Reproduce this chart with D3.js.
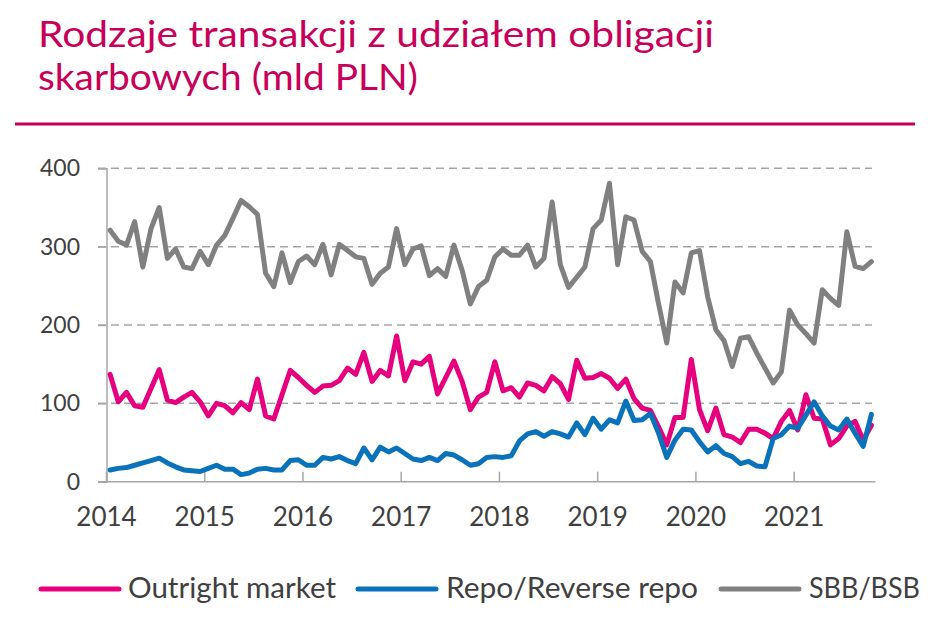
<!DOCTYPE html>
<html>
<head>
<meta charset="utf-8">
<script src="https://cdn.jsdelivr.net/npm/d3@7"></script>
<style>
  html, body { margin: 0; padding: 0; background: #ffffff; }
  svg { display: block; }
</style>
</head>
<body>
<div id="chart"></div>
<script>
// ---- data (monthly, Jan 2014 – Oct 2021) ----
const startYear = 2014;
const yearLabels = ["2014", "2015", "2016", "2017", "2018", "2019", "2020", "2021"];
const yTicks = [0, 100, 200, 300, 400];
const seriesNames = ["Outright market", "Repo/Reverse repo", "SBB/BSB"];

const outright = [
  137, 102, 114, 97, 95, 119, 143, 104, 101, 108, 114, 102,
  84, 100, 97, 88, 101, 92, 131, 84, 80, 111, 142, 133,
  123, 114, 122, 123, 129, 145, 137, 165, 128, 142, 135, 186,
  129, 153, 150, 160, 112, 133, 154, 128, 92, 108, 114, 153,
  116, 120, 108, 126, 123, 116, 134, 125, 105, 155, 132, 133,
  138, 132, 119, 131, 106, 94, 91, 70, 47, 82, 82, 156,
  92, 65, 94, 60, 57, 50, 67, 67, 62, 55, 77, 91,
  66, 111, 81, 80, 47, 55, 71, 77, 53, 72
];
const repo = [
  15, 17, 18, 21, 24, 27, 30, 24, 19, 15, 14, 13,
  17, 21, 16, 16, 9, 11, 16, 17, 15, 15, 27, 28,
  21, 21, 31, 29, 32, 27, 23, 43, 28, 44, 38, 43,
  36, 29, 27, 31, 27, 36, 34, 28, 21, 23, 31, 32,
  31, 33, 52, 61, 64, 58, 64, 61, 57, 75, 60, 81,
  67, 79, 75, 103, 78, 79, 87, 62, 31, 53, 67, 66,
  51, 38, 46, 36, 32, 23, 26, 20, 19, 55, 60, 71,
  68, 85, 102, 84, 71, 66, 80, 62, 45, 86
];
const sbb = [
  321, 307, 302, 332, 274, 323, 350, 285, 297, 274, 272, 294,
  277, 302, 314, 336, 359, 351, 341, 266, 249, 292, 254, 281,
  288, 277, 303, 264, 303, 295, 287, 285, 252, 266, 274, 323,
  277, 297, 301, 263, 272, 262, 302, 270, 227, 249, 257, 287,
  297, 289, 289, 302, 274, 285, 357, 277, 248, 261, 274, 323,
  334, 381, 277, 338, 334, 294, 281, 227, 177, 255, 241, 292,
  295, 236, 194, 180, 147, 183, 185, 164, 145, 126, 140, 219,
  200, 189, 177, 245, 234, 225, 319, 275, 272, 281
];

const colors = ["#E6007E", "#0A72BA", "#808080"];
const seriesData = [outright, repo, sbb];

// ---- layout ----
const W = 933, H = 618;
const svg = d3.select("#chart").append("svg")
  .attr("width", W).attr("height", H)
  .style("font-family", "Lato, 'Open Sans', sans-serif");

const titleColor = "#C8005A";
svg.append("text").attr("x", 38).attr("y", 47)
  .attr("fill", titleColor).attr("font-size", 37)
  .attr("font-family", "Lato, sans-serif").attr("font-weight", 400)
  .attr("textLength", 676).attr("lengthAdjust", "spacingAndGlyphs")
  .text("Rodzaje transakcji z udziałem obligacji");
svg.append("text").attr("x", 38).attr("y", 90)
  .attr("fill", titleColor).attr("font-size", 37)
  .attr("font-family", "Lato, sans-serif").attr("font-weight", 400)
  .attr("textLength", 380).attr("lengthAdjust", "spacingAndGlyphs")
  .text("skarbowych (mld PLN)");
svg.append("line").attr("x1", 15).attr("x2", 915).attr("y1", 124).attr("y2", 124)
  .attr("stroke", titleColor).attr("stroke-width", 3);

const nMonths = outright.length;
const x0 = 106, x1 = 875.5;
const x = d3.scaleBand().domain(d3.range(nMonths)).range([x0, x1]);
const xc = i => x(i) + x.bandwidth() / 2;
const y = d3.scaleLinear().domain([0, 400]).range([481.7, 168.3]);

const axisColor = "#A6A6A6";
const textColor = "#404040";

// gridlines
svg.append("g").selectAll("line").data(yTicks.filter(d => d > 0)).join("line")
  .attr("x1", 98).attr("x2", 872)
  .attr("y1", d => y(d)).attr("y2", d => y(d))
  .attr("stroke", axisColor).attr("stroke-width", 1.5)
  .attr("stroke-dasharray", "8,5");

// y axis
const yAxis = d3.axisLeft(y).tickValues(yTicks).tickSize(8.5).tickPadding(18);
const gy = svg.append("g").attr("transform", `translate(${x0 + 0.5},0)`).call(yAxis);
gy.select(".domain").attr("stroke", axisColor).attr("stroke-width", 1.5);
gy.selectAll(".tick line").attr("stroke", axisColor).attr("stroke-width", 1.5);
gy.selectAll(".tick text").attr("fill", textColor).attr("font-size", 23)
  .attr("font-family", "Lato, sans-serif");

// x axis (year boundaries)
const yearIdx = yearLabels.map((d, k) => k * 12);
const xAxisScale = d3.scaleLinear().domain([0, nMonths]).range([x0, x1]);
const xAxis = d3.axisBottom(xAxisScale).tickValues(yearIdx)
  .tickFormat((d, k) => yearLabels[k]).tickSize(-10).tickPadding(26);
const gx = svg.append("g").attr("transform", `translate(0,${y(0)})`).call(xAxis);
gx.select(".domain").remove();
gx.append("line").attr("x1", 98).attr("x2", x1).attr("y1", 0).attr("y2", 0)
  .attr("stroke", axisColor).attr("stroke-width", 1.5);
gx.selectAll(".tick line").attr("stroke", axisColor).attr("stroke-width", 1.5);
gx.selectAll(".tick text").attr("fill", textColor).attr("font-size", 26)
  .attr("font-family", "Lato, sans-serif");

// lines: draw SBB first, then outright, then repo on top
const line = d3.line().x((d, i) => xc(i)).y(d => y(d)).curve(d3.curveLinear);
[2, 0, 1].forEach(s => {
  svg.append("path").datum(seriesData[s])
    .attr("d", line).attr("fill", "none")
    .attr("stroke", colors[s]).attr("stroke-width", 5)
    .attr("stroke-linejoin", "round").attr("stroke-linecap", "round");
});

// legend
const legendItems = [
  { name: seriesNames[0], color: colors[0], lx: 41, tx: 128, tw: 208 },
  { name: seriesNames[1], color: colors[1], lx: 358, tx: 446, tw: 252 },
  { name: seriesNames[2], color: colors[2], lx: 721, tx: 809, tw: 111 }
];
const lg = svg.append("g");
legendItems.forEach(it => {
  lg.append("line").attr("x1", it.lx).attr("x2", it.lx + 78)
    .attr("y1", 589).attr("y2", 589)
    .attr("stroke", it.color).attr("stroke-width", 5).attr("stroke-linecap", "round");
  lg.append("text").attr("x", it.tx).attr("y", 598)
    .attr("fill", textColor).attr("font-size", 29)
    .attr("font-family", "Lato, sans-serif")
    .attr("textLength", it.tw).attr("lengthAdjust", "spacingAndGlyphs")
    .text(it.name);
});
</script>
</body>
</html>
